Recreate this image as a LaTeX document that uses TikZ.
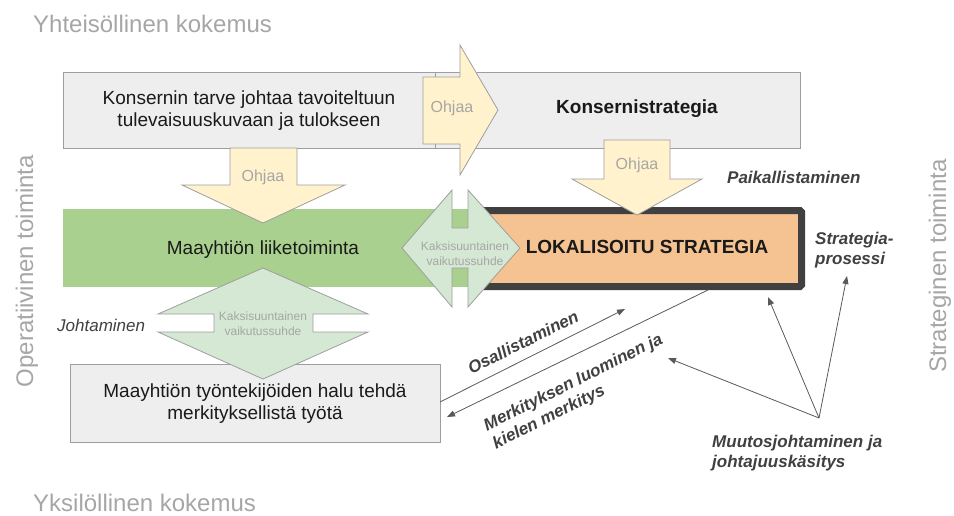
\documentclass[tikz,border=0pt]{standalone}
\usepackage{fontspec}
\setmainfont{Liberation Sans}
\usetikzlibrary{arrows.meta}
\definecolor{boxgray}{HTML}{EEEEEE}
\definecolor{boxline}{HTML}{9E9E9E}
\definecolor{arrowyellow}{HTML}{FFF2CC}
\definecolor{arrowgreen}{HTML}{D5E8D4}
\definecolor{bizgreen}{HTML}{A9D08E}
\definecolor{stratorange}{HTML}{F5C391}
\definecolor{stratborder}{HTML}{404040}
\definecolor{sidegray}{HTML}{A6A6A6}
\definecolor{labelgray}{HTML}{404040}
\definecolor{conngray}{HTML}{595959}
\definecolor{maintext}{HTML}{1A1A1A}
\tikzset{
  graybox/.style={draw=boxline, fill=boxgray, line width=0.8pt},
  yellowarrow/.style={draw=boxline, fill=arrowyellow, line width=0.8pt},
  greenarrow/.style={draw=boxline, fill=arrowgreen, line width=0.8pt},
  maintxt/.style={font=\fontsize{19}{22}\selectfont, text=maintext, align=center, inner sep=0pt},
  ohjaatxt/.style={font=\fontsize{16}{19}\selectfont, text=sidegray, inner sep=0pt},
  smalltxt/.style={font=\fontsize{12}{15}\selectfont, text=sidegray, align=center, inner sep=0pt},
  sidetxt/.style={font=\fontsize{24}{28}\selectfont, text=sidegray, inner sep=0pt},
  labeltxt/.style={font=\fontsize{17}{20}\selectfont\bfseries\itshape, text=labelgray, align=left, inner sep=0pt},
  conn/.style={draw=conngray, line width=0.8pt, -{Triangle[length=8pt,width=6pt]}},
}
\begin{document}
\begin{tikzpicture}[x=1pt,y=-1pt]
\useasboundingbox (0,0) rectangle (954,515);

% side labels
\node[sidetxt, anchor=west] (yht) at (33,24) {Yhteisöllinen kokemus};
\node[sidetxt, anchor=west] (yks) at (33,503) {Yksilöllinen kokemus};
\node[sidetxt, rotate=90] (oper) at (27,271) {Operatiivinen toiminta};
\node[sidetxt, rotate=90] (strat) at (940,266) {Strateginen toiminta};

% top boxes
\draw[graybox] (435,72) rectangle (800,148);
\draw[graybox] (63,72) rectangle (435,148);
\node[maintxt] (need) at (249,111) {Konsernin tarve johtaa tavoiteltuun\\tulevaisuuskuvaan ja tulokseen};
\node[maintxt, font=\fontsize{19}{22}\selectfont\bfseries] (konsern) at (637,109) {Konsernistrategia};

% green business box
\fill[bizgreen] (63,209) rectangle (490,287);
\node[maintxt] (biz) at (263,250) {Maayhtiön liiketoiminta};

% orange strategy box
\draw[fill=stratorange, draw=stratborder, line width=7pt, rounded corners=1.5pt] (483.5,210.5) rectangle (801.5,286.5);
\node[maintxt, font=\fontsize{19}{22}\selectfont\bfseries] (lok) at (647,247) {LOKALISOITU STRATEGIA};

% bottom box
\draw[graybox] (70,364) rectangle (440,442);
\node[maintxt] (emp) at (255,404) {Maayhtiön työntekijöiden halu tehdä\\merkityksellistä työtä};

% yellow arrows
\draw[yellowarrow] (423,77) -- (460,77) -- (460,45) -- (498,110) -- (460,175) -- (460,144) -- (423,144) -- cycle;
\node[ohjaatxt] (oh1) at (452,108) {Ohjaa};
\draw[yellowarrow] (230,148) -- (297,148) -- (297,185) -- (345,185) -- (263,223) -- (182,185) -- (230,185) -- cycle;
\node[ohjaatxt] (oh2) at (263,177) {Ohjaa};
\draw[yellowarrow] (604,140) -- (670,140) -- (670,179) -- (702,179) -- (637,215) -- (572,179) -- (604,179) -- cycle;
\node[ohjaatxt] (oh3) at (637,165) {Ohjaa};

% green double arrows
\draw[greenarrow] (402,248) -- (452,190) -- (452,228) -- (468,228) -- (468,190) -- (520,248) -- (468,307) -- (468,268) -- (452,268) -- (452,307) -- cycle;
\node[smalltxt] (kak1) at (465,254) {Kaksisuuntainen\\vaikutussuhde};
\draw[greenarrow] (263,268) -- (368,314) -- (313,314) -- (313,332) -- (368,332) -- (263,379) -- (158,332) -- (214,332) -- (214,314) -- (158,314) -- cycle;
\node[smalltxt] (kak2) at (263,324) {Kaksisuuntainen\\vaikutussuhde};

% labels
\node[labeltxt, font=\fontsize{17}{20}\selectfont\itshape, anchor=west] (joht) at (57,325) {Johtaminen};
\node[labeltxt, anchor=west] (paik) at (727,177) {Paikallistaminen};
\node[labeltxt, anchor=north west] (sproc) at (815,232) {Strategia-\\prosessi};
\node[labeltxt, anchor=north west] (muut) at (712,435) {Muutosjohtaminen ja\\johtajuuskäsitys};
\node[labeltxt, rotate=26.6] (osal) at (523,342) {Osallistaminen};
\node[labeltxt, rotate=26.6] (merk) at (578,392) {Merkityksen luominen ja\\kielen merkitys};

% connectors
\coordinate (osA) at (440,402);
\coordinate (osB) at (625,309);
\coordinate (mkA) at (708,290);
\coordinate (mkB) at (447,417);
\coordinate (mu) at (819,418);
\coordinate (muA) at (768,297);
\coordinate (muB) at (847,276);
\coordinate (muC) at (668,358);
\draw[conn] (osA) -- (osB);
\draw[conn] (mkA) -- (mkB);
\draw[conn] (mu) -- (muA);
\draw[conn] (mu) -- (muB);
\draw[conn] (mu) -- (muC);
\end{tikzpicture}
\end{document}
